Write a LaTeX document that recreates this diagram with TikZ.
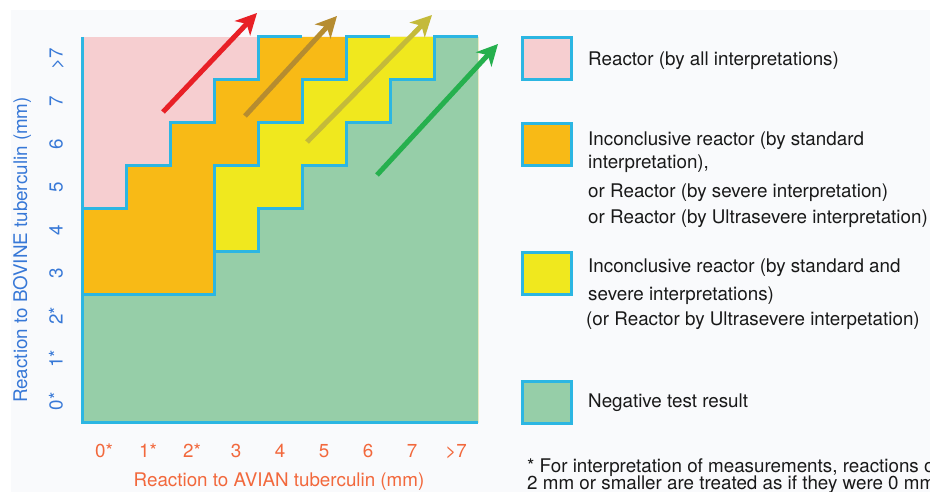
\documentclass[tikz,border=0pt]{standalone}
\usepackage{fontspec}
\setmainfont{TeX Gyre Heros}
\usepackage{tikz}
\usetikzlibrary{arrows.meta}
\definecolor{tbpaper}{RGB}{249,250,252}
\definecolor{tbcyan}{RGB}{44,182,226}
\definecolor{tbpink}{RGB}{246,206,208}
\definecolor{tborange}{RGB}{248,186,22}
\definecolor{tbyellow}{RGB}{240,232,30}
\definecolor{tbgreen}{RGB}{150,206,168}
\definecolor{tbblue}{RGB}{55,120,215}
\definecolor{tbred}{RGB}{242,104,60}
\definecolor{tbtext}{RGB}{25,25,25}
\definecolor{arrred}{RGB}{232,32,38}
\definecolor{arrbrown}{RGB}{182,140,48}
\definecolor{arrolive}{RGB}{196,186,58}
\definecolor{arrgreen}{RGB}{38,176,78}

\begin{document}
\begin{tikzpicture}[x=1pt, y=1pt, font=\fontsize{18.8}{22}\selectfont,
  edge/.style={tbcyan, line width=3pt, line join=miter},
  swatch/.style={draw=tbcyan, line width=3pt, minimum width=49pt, minimum height=42pt, inner sep=0pt},
  legtext/.style={anchor=base west, text=tbtext, inner sep=0pt},
  ytick/.style={rotate=90, anchor=base, text=tbblue, inner sep=0pt},
  xtick/.style={anchor=base, text=tbred, inner sep=0pt},
  bigarrow/.style={line width=5pt, -{Stealth[length=21pt, width=21pt, inset=6pt]}}]
  \useasboundingbox (0,0) rectangle (930,492);
  \clip (0,0) rectangle (930,492);
  \fill[tbpaper] (11,0) rectangle (930,482);

  % the 9 x 9 grid, one unit per mm class
  \begin{scope}[shift={(82pt,69pt)}, x=44pt, y=42.89pt]
    \fill[tbpink] (0,0) rectangle (9,9);
    \fill[tborange] (0,0) -- (0,5) -- (1,5) -- (1,6) -- (2,6) -- (2,7) -- (3,7) -- (3,8) -- (4,8) -- (4,9) -- (9,9) -- (9,0) -- cycle;
    \fill[tbyellow] (0,0) -- (0,3) -- (3,3) -- (3,6) -- (4,6) -- (4,7) -- (5,7) -- (5,8) -- (6,8) -- (6,9) -- (9,9) -- (9,0) -- cycle;
    \fill[tbgreen] (0,0) -- (0,3) -- (3,3) -- (3,4) -- (4,4) -- (4,5) -- (5,5) -- (5,6) -- (6,6) -- (6,7) -- (7,7) -- (7,8) -- (8,8) -- (8,9) -- (9,9) -- (9,0) -- cycle;
    \draw[edge] (0,9) -- (0,0) -- (9,0);
    \draw[edge] (0,5) -- (1,5) -- (1,6) -- (2,6) -- (2,7) -- (3,7) -- (3,8) -- (4,8) -- (4,9) -- (5,9);
    \draw[edge] (0,3) -- (3,3) -- (3,6) -- (4,6) -- (4,7) -- (5,7) -- (5,8) -- (6,8) -- (6,9) -- (7,9);
    \draw[edge] (3,4) -- (4,4) -- (4,5) -- (5,5) -- (5,6) -- (6,6) -- (6,7) -- (7,7) -- (7,8) -- (8,8) -- (8,9) -- (9,9);

    \node[ytick] (yt0) at (-0.44,0.5) {0*};
    \node[ytick] (yt1) at (-0.44,1.5) {1*};
    \node[ytick] (yt2) at (-0.44,2.5) {2*};
    \node[ytick] (yt3) at (-0.44,3.5) {3};
    \node[ytick] (yt4) at (-0.44,4.5) {4};
    \node[ytick] (yt5) at (-0.44,5.5) {5};
    \node[ytick] (yt6) at (-0.44,6.5) {6};
    \node[ytick] (yt7) at (-0.44,7.5) {7};
    \node[ytick] (yt8) at (-0.44,8.5) {>7};

    \node[xtick] (xt0) at (0.5,-0.793) {0*};
    \node[xtick] (xt1) at (1.5,-0.793) {1*};
    \node[xtick] (xt2) at (2.5,-0.793) {2*};
    \node[xtick] (xt3) at (3.5,-0.793) {3};
    \node[xtick] (xt4) at (4.5,-0.793) {4};
    \node[xtick] (xt5) at (5.5,-0.793) {5};
    \node[xtick] (xt6) at (6.5,-0.793) {6};
    \node[xtick] (xt7) at (7.5,-0.793) {7};
    \node[xtick] (xt8) at (8.5,-0.793) {>7};
  \end{scope}

  \node[rotate=90, anchor=base, text=tbblue, inner sep=0pt] (ytitle) at (27,242) {Reaction to BOVINE tuberculin (mm)};
  \node[anchor=base, text=tbred, inner sep=0pt] (xtitle) at (279,5) {Reaction to AVIAN tuberculin (mm)};

  % arrows across the staircase
  \coordinate (redtail) at (163,380);
  \coordinate (redtip) at (257,479);
  \coordinate (browntail) at (245,376);
  \coordinate (browntip) at (337,476);
  \coordinate (olivetail) at (307,350);
  \coordinate (olivetip) at (432,477);
  \coordinate (greentail) at (377,317);
  \coordinate (greentip) at (498,448);
  \draw[bigarrow, arrred] (redtail) -- (redtip);
  \draw[bigarrow, arrbrown] (browntail) -- (browntip);
  \draw[bigarrow, arrolive] (olivetail) -- (olivetip);
  \draw[bigarrow, arrgreen] (greentail) -- (greentip);

  % legend
  \node[swatch, fill=tbpink] (keypink) at (547,433.5) {};
  \node[swatch, fill=tborange] (keyorange) at (547,347.5) {};
  \node[swatch, fill=tbyellow] (keyyellow) at (547,218.5) {};
  \node[swatch, fill=tbgreen] (keygreen) at (547,89.5) {};

  \node[legtext] (keypinkA) at (588,426) {Reactor (by all interpretations)};
  \node[legtext] (keyorangeA) at (588,346) {Inconclusive reactor (by standard};
  \node[legtext] (keyorangeB) at (588,323) {interpretation),};
  \node[legtext] (keyorangeC) at (588,294) {or Reactor (by severe interpretation)};
  \node[legtext] (keyorangeD) at (588,268) {or Reactor (by Ultrasevere interpretation)};
  \node[legtext] (keyyellowA) at (588,219) {Inconclusive reactor (by standard and};
  \node[legtext] (keyyellowB) at (588,191) {severe interpretations)};
  \node[legtext] (keyyellowC) at (586,166) {(or Reactor by Ultrasevere interpetation)};
  \node[legtext] (keygreenA) at (588,84) {Negative test result};

  \node[legtext] (noteA) at (527,19) {* For interpretation of measurements, reactions of};
  \node[legtext] (noteB) at (527,2) {2 mm or smaller are treated as if they were 0 mm.};
\end{tikzpicture}
\end{document}
